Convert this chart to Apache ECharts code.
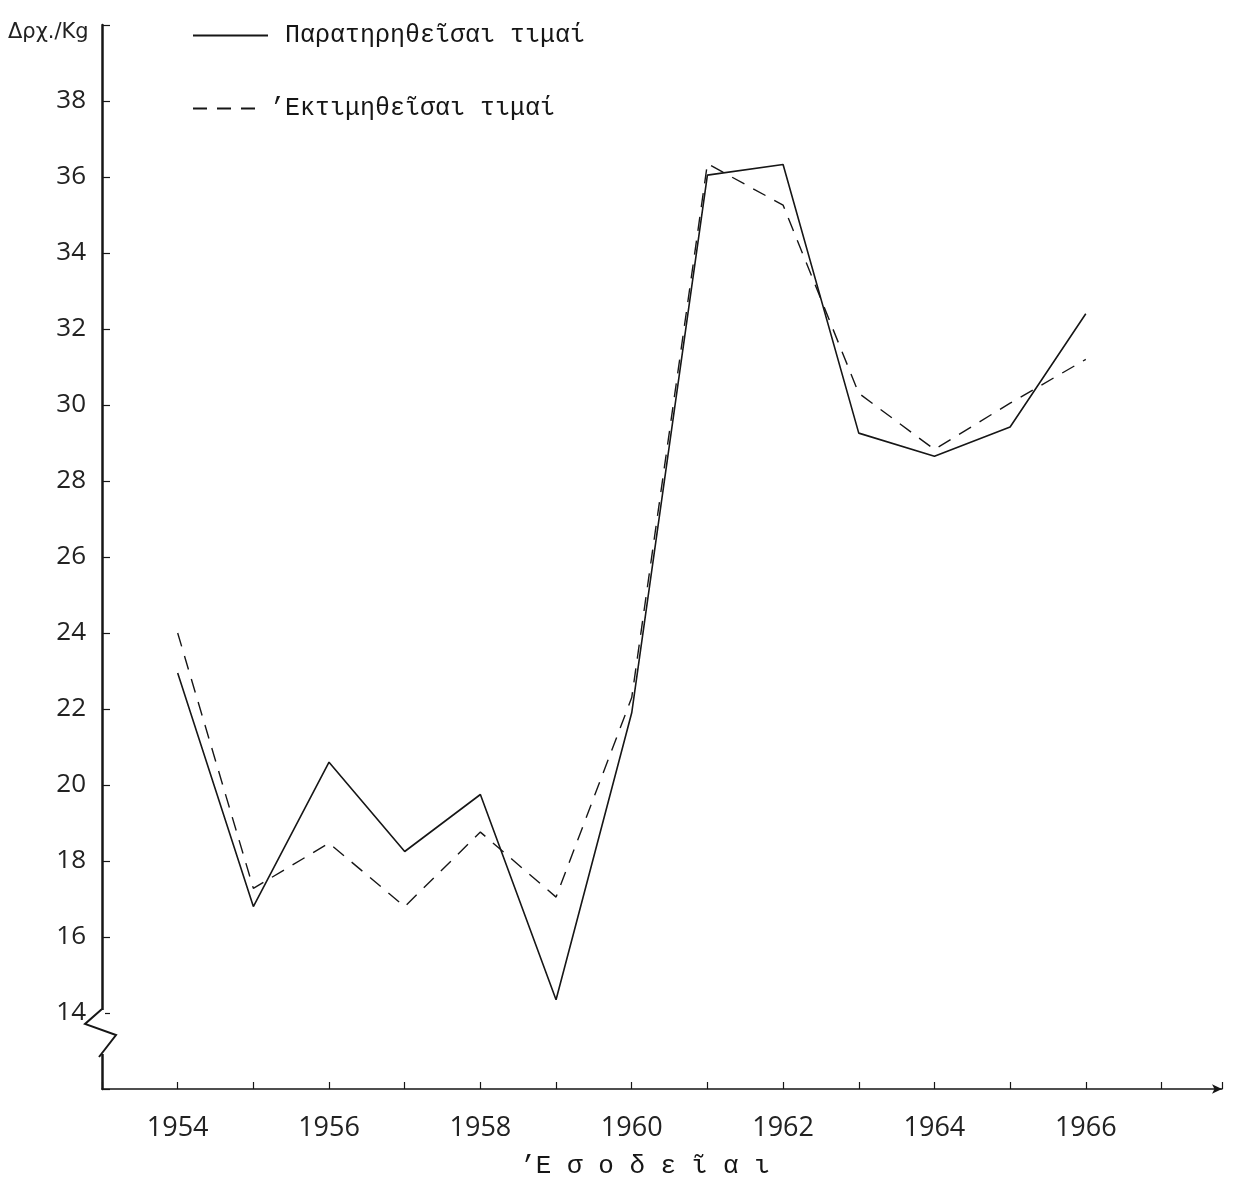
<!DOCTYPE html>
<html>
<head>
<meta charset="utf-8">
<script src="https://cdn.jsdelivr.net/npm/echarts@6/dist/echarts.min.js"></script>
<style>
html,body{margin:0;padding:0;background:#fff;}
#chart{width:1235px;height:1191px;}
</style>
</head>
<body>
<div id="chart"></div>
<script>
// ---- data ----
const years = [1954,1955,1956,1957,1958,1959,1960,1961,1962,1963,1964,1965,1966];
const observed  = [22.95,16.8,20.6,18.25,19.75,14.35,21.9,36.05,36.33,29.26,28.65,29.42,32.4];
const estimated = [24.0,17.28,18.47,16.8,18.76,17.05,22.3,36.35,35.26,30.31,28.83,30.05,31.2];
const seriesNames = ['Παρατηρηθεῖσαι τιμαί', '\u2019Εκτιμηθεῖσαι τιμαί'];
const yTickLabels = [14,16,18,20,22,24,26,28,30,32,34,36,38];
const xTickLabels = [1954,1956,1958,1960,1962,1964,1966];
const yAxisName = 'Δρχ./Kg';
const xAxisName = '\u2019Ε σ ο δ ε ῖ α ι';

const ink = '#161616';
const chart = echarts.init(document.getElementById('chart'), null, {renderer:'canvas'});

const option = {
  animation: false,
  backgroundColor: '#fff',
  grid: {left: 102, top: 25, width: 1120, height: 1064, containLabel: false},
  legend: [
    {
      data: [seriesNames[0]], left: 187, top: 18, orient: 'horizontal',
      itemWidth: 75, itemHeight: 14,
      itemStyle: {opacity: 0},
      textStyle: {fontFamily: 'Liberation Mono', fontSize: 25, color: ink, padding: [0,0,0,12]}
    },
    {
      data: [seriesNames[1]], left: 187, top: 91, orient: 'horizontal',
      itemWidth: 72, itemHeight: 14,
      itemStyle: {opacity: 0},
      textStyle: {fontFamily: 'Liberation Mono', fontSize: 25, color: ink, padding: [0,0,0,0]}
    }
  ],
  xAxis: {
    type: 'value', min: 1953, max: 1967.8, interval: 1,
    name: xAxisName, nameLocation: 'middle', nameGap: 64,
    nameTextStyle: {fontFamily: 'Liberation Mono', fontSize: 26, color: ink, padding: [0,34,0,0]},
    axisLine: {lineStyle: {color: ink, width: 1.5}, symbol: ['none','arrow'], symbolSize: [7,10]},
    axisTick: {inside: true, length: 7, lineStyle: {color: ink, width: 1.2}},
    splitLine: {show: false},
    axisLabel: {
      margin: 26, fontFamily: 'Open Sans', fontSize: 27, color: '#222',
      formatter: v => xTickLabels.indexOf(Math.round(v)) >= 0 && Math.abs(v - Math.round(v)) < 1e-6 ? String(Math.round(v)) : ''
    }
  },
  yAxis: {
    type: 'value', min: 12, max: 40, interval: 2,
    axisLine: {show: true, lineStyle: {color: ink, width: 2.5}},
    axisTick: {inside: true, length: 8, lineStyle: {color: ink, width: 1.2}},
    splitLine: {show: false},
    axisLabel: {
      margin: 16, fontFamily: 'Open Sans', fontSize: 26, color: '#222',
      formatter: v => yTickLabels.indexOf(v) >= 0 ? String(v) : ''
    }
  },
  series: [
    {
      name: seriesNames[0], type: 'line', symbol: 'none',
      data: years.map((y,i)=>[y, observed[i]]),
      lineStyle: {color: ink, width: 1.6, type: 'solid'},
      itemStyle: {color: ink}
    },
    {
      name: seriesNames[1], type: 'line', symbol: 'none',
      data: years.map((y,i)=>[y, estimated[i]]),
      lineStyle: {color: ink, width: 1.4, type: [14,10]},
      itemStyle: {color: ink}
    }
  ]
};
chart.setOption(option);

// axis break (zig-zag) just below 14 and y-axis unit label
const ax = chart.convertToPixel({xAxisIndex:0}, 1953);
const y14 = chart.convertToPixel({yAxisIndex:0}, 14);
chart.setOption({
  graphic: [
    {type:'rect', shape:{x: ax-3, y: y14-3, width: 6, height: 44}, style:{fill:'#fff'}, z: 100},
    {type:'polyline', shape:{points:[[ax, y14-4],[ax-17, y14+11],[ax+14, y14+22],[ax-3, y14+44]]},
     style:{stroke: ink, lineWidth: 2, fill: 'none'}, z: 101},
    {type:'text', left: 8, top: 22,
     style:{text: yAxisName, fontFamily:'DejaVu Sans', fontSize: 21, fill: '#222'}, z: 101}
  ]
});
</script>
</body>
</html>
